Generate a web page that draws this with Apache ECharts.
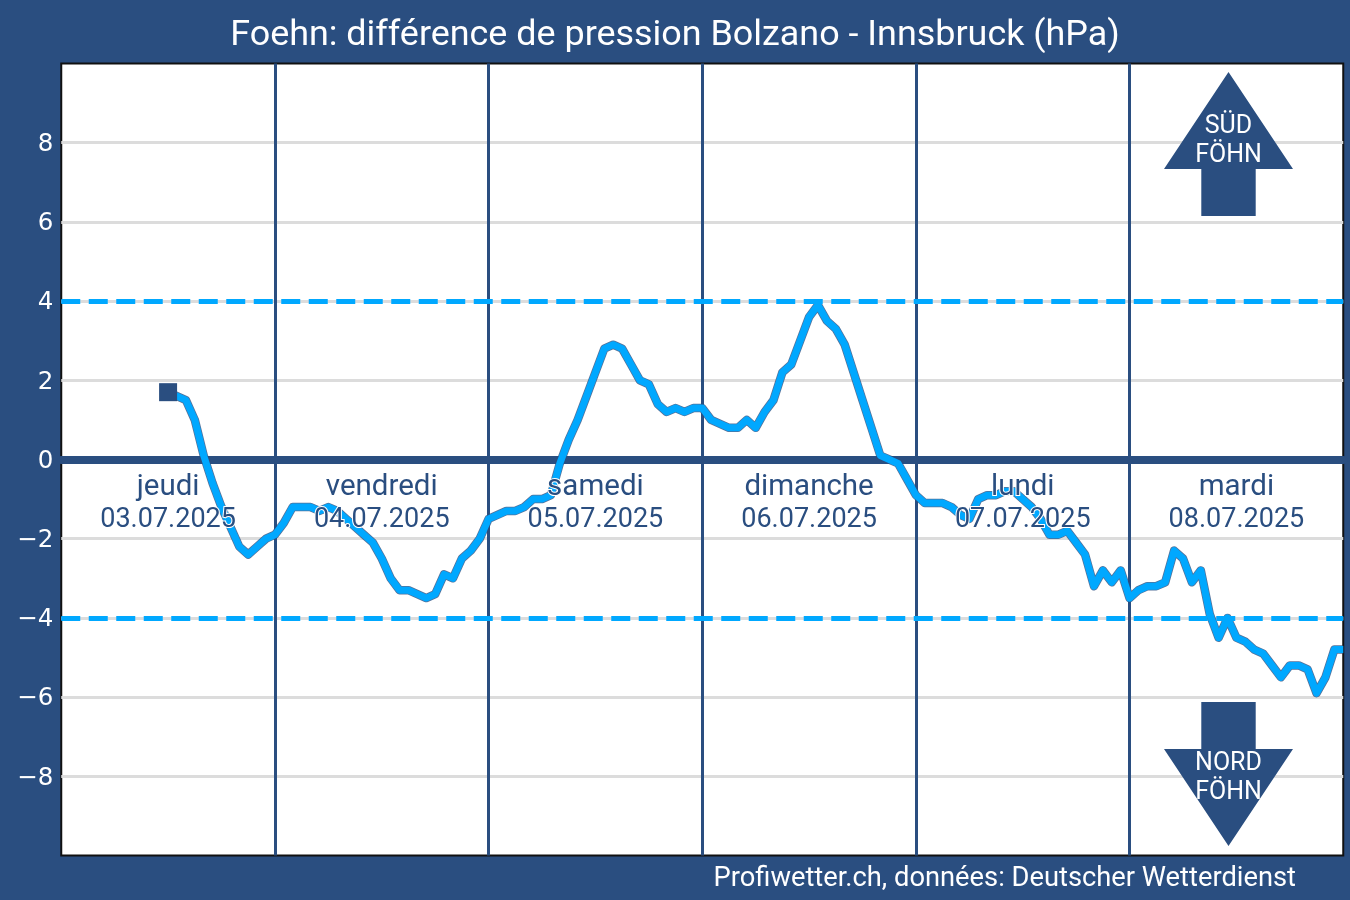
<!DOCTYPE html>
<html>
<head>
<meta charset="utf-8">
<title>Foehn</title>
<script src="https://cdn.jsdelivr.net/npm/echarts@6/dist/echarts.min.js"></script>
<style>
  html, body { margin: 0; padding: 0; background: #2a4e80; }
  #main { width: 1350px; height: 900px; }
</style>
</head>
<body>
<div id="main"></div>
<script>
// hourly values, first one is 03.07 12:00
const firstHour = 12
const pressureDiff = [
  1.7, 1.6, 1.5, 1.0, 0.1, -0.6, -1.2, -1.7, -2.2, -2.4, -2.2, -2.0,
  -1.9, -1.6, -1.2, -1.2, -1.2, -1.3, -1.2, -1.3, -1.5, -1.7, -1.9, -2.1,
  -2.5, -3.0, -3.3, -3.3, -3.4, -3.5, -3.4, -2.9, -3.0, -2.5, -2.3, -2.0,
  -1.5, -1.4, -1.3, -1.3, -1.2, -1.0, -1.0, -0.9, -0.1, 0.5, 1.0, 1.6,
  2.2, 2.8, 2.9, 2.8, 2.4, 2.0, 1.9, 1.4, 1.2, 1.3, 1.2, 1.3,
  1.3, 1.0, 0.9, 0.8, 0.8, 1.0, 0.8, 1.2, 1.5, 2.2, 2.4, 3.0,
  3.6, 3.9, 3.5, 3.3, 2.9, 2.2, 1.5, 0.8, 0.1, 0.0, -0.1, -0.5,
  -0.9, -1.1, -1.1, -1.1, -1.2, -1.4, -1.5, -1.0, -0.9, -0.9, -0.8, -0.8,
  -1.0, -1.2, -1.5, -1.9, -1.9, -1.8, -2.1, -2.4, -3.2, -2.8, -3.1, -2.8,
  -3.5, -3.3, -3.2, -3.2, -3.1, -2.3, -2.5, -3.1, -2.8, -3.9, -4.5, -4.0,
  -4.5, -4.6, -4.8, -4.9, -5.2, -5.5, -5.2, -5.2, -5.3, -5.9, -5.5, -4.8,
  -4.8
]
const dayNames = ['jeudi', 'vendredi', 'samedi', 'dimanche', 'lundi', 'mardi']
const dayDates = ['03.07.2025', '04.07.2025', '05.07.2025', '06.07.2025', '07.07.2025', '08.07.2025']
const foehnLimits = [4, -4]

const navy = '#2a4e80'
const blue = '#00a8ff'
const fontName = 'Roboto'

const chart = echarts.init(document.getElementById('main'))

// [heure, valeur] pour l'axe x
const linePoints = pressureDiff.map((v, i) => [firstHour + i, v])
// labels des jours au milieu de chaque journee
const dayPoints = dayNames.map((d, i) => [12 + i * 24, -1.13])

// fleche + texte
function arrow(points, lines, firstY) {
  let items = [{
    type: 'polygon',
    shape: { points: points },
    style: { fill: navy },
    z: 20
  }]
  lines.forEach((t, i) => {
    items.push({
      type: 'text',
      x: 1228.5,
      y: firstY + i * 28.7,
      style: {
        text: t,
        fill: '#fff',
        font: '25px ' + fontName,
        textAlign: 'center',
        textVerticalAlign: 'middle'
      },
      z: 21
    })
  })
  return items
}

const option = {
  animation: false,
  backgroundColor: navy,
  textStyle: { fontFamily: fontName },
  title: [
    {
      text: 'Foehn: différence de pression Bolzano - Innsbruck (hPa)',
      left: 'center',
      top: 13,
      textStyle: { color: '#fff', fontSize: 35.9, fontWeight: 'normal', fontFamily: fontName }
    },
    {
      // pied de page aligne sur x = 1296
      text: 'Profiwetter.ch, données: Deutscher Wetterdienst',
      right: 49,
      top: 861,
      textStyle: { color: '#fff', fontSize: 27.3, fontWeight: 'normal', fontFamily: fontName }
    }
  ],
  grid: {
    left: 61.25,
    right: 6.75,
    top: 63.5,
    bottom: 44.5,
    show: true,
    backgroundColor: '#fff',
    borderColor: '#111',
    borderWidth: 2
  },
  xAxis: {
    type: 'value',
    min: 0,
    max: 144,
    interval: 24,
    axisLine: { onZero: true, lineStyle: { color: navy, width: 8 } },
    axisTick: { show: false },
    axisLabel: { show: false },
    splitLine: { showMinLine: false, showMaxLine: false, lineStyle: { color: navy, width: 3 } }
  },
  yAxis: {
    type: 'value',
    min: -10,
    max: 10,
    interval: 2,
    axisLine: { show: false },
    axisTick: { show: false },
    axisLabel: {
      color: '#fff',
      fontSize: 24.5,
      fontFamily: 'DejaVu Sans',
      margin: 8,
      // descend le texte de 2px sous le trait
      verticalAlign: 'top',
      lineHeight: 4,
      formatter: function (v) {
        if (Math.abs(v) === 10) return ''
        return v < 0 ? '\u2212' + Math.abs(v) : '' + v
      }
    },
    splitLine: { showMinLine: false, showMaxLine: false, lineStyle: { color: '#dcdcdc', width: 3 } }
  },
  series: [
    {
      // seuils de foehn
      type: 'line',
      data: [],
      z: 2,
      silent: true,
      markLine: {
        symbol: 'none',
        label: { show: false },
        lineStyle: { color: blue, width: 5, type: [19, 8.5] },
        data: foehnLimits.map(v => ({ yAxis: v }))
      }
    },
    {
      // bord sombre sous la courbe
      type: 'line',
      data: linePoints,
      z: 3,
      symbol: 'none',
      lineStyle: { color: 'rgba(42,78,128,0.8)', width: 8.5, join: 'round' }
    },
    {
      type: 'line',
      data: linePoints,
      z: 4,
      symbol: 'none',
      lineStyle: { color: blue, width: 7, join: 'round' }
    },
    {
      // carre au debut de la courbe
      type: 'scatter',
      data: [linePoints[0]],
      z: 5,
      symbol: 'rect',
      symbolSize: 18,
      itemStyle: { color: navy, opacity: 1 }
    },
    {
      type: 'scatter',
      data: dayPoints,
      z: 6,
      symbolSize: 0,
      silent: true,
      itemStyle: { opacity: 1 },
      label: {
        show: true,
        position: 'inside',
        opacity: 1,
        formatter: p => '{name|' + dayNames[p.dataIndex] + '}\n{date|' + dayDates[p.dataIndex] + '}',
        rich: {
          name: {
            color: navy, fontSize: 29.5, fontFamily: fontName, lineHeight: 33,
            textBorderColor: '#fff', textBorderWidth: 2
          },
          date: {
            color: navy, fontSize: 27, fontFamily: fontName, lineHeight: 33,
            textBorderColor: '#fff', textBorderWidth: 2
          }
        }
      }
    }
  ],
  graphic: arrow([[1228.5, 72], [1293, 169], [1255.7, 169], [1255.7, 216], [1201.3, 216], [1201.3, 169], [1164, 169]], ['SÜD', 'FÖHN'], 127)
    .concat(arrow([[1201.3, 702], [1255.7, 702], [1255.7, 749], [1293, 749], [1228.5, 846], [1164, 749], [1201.3, 749]], ['NORD', 'FÖHN'], 764))
}

chart.setOption(option)
</script>
</body>
</html>
